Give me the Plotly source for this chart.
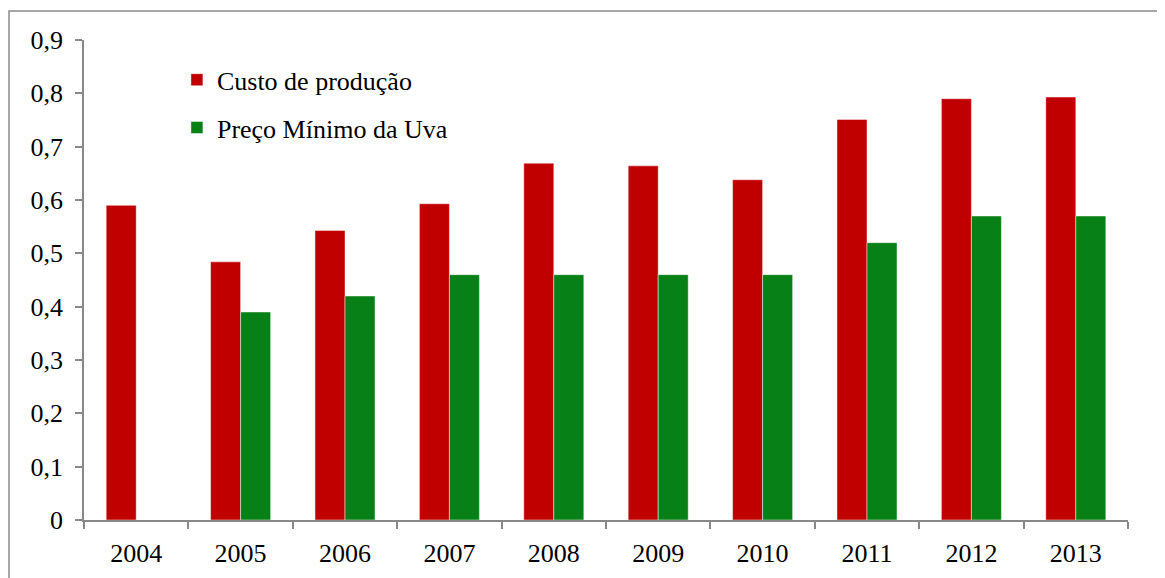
import plotly.graph_objects as go

years = ["2004", "2005", "2006", "2007", "2008", "2009", "2010", "2011", "2012", "2013"]
custo = [0.59, 0.484, 0.543, 0.593, 0.669, 0.664, 0.638, 0.751, 0.790, 0.793]
preco = [None, 0.39, 0.42, 0.46, 0.46, 0.46, 0.46, 0.52, 0.57, 0.57]
ytick_vals = [0, 0.1, 0.2, 0.3, 0.4, 0.5, 0.6, 0.7, 0.8, 0.9]
ytick_text = ["0", "0,1", "0,2", "0,3", "0,4", "0,5", "0,6", "0,7", "0,8", "0,9"]

FONT = "Liberation Serif"
FS = 26
AXC = "#898989"

# page body has an 8px margin; figure coords = page coords - 8
L, T = 76, 32
PW, PH = 1044, 480

fig = go.Figure()
fig.add_trace(go.Bar(x=years, y=custo, name="Custo de produção", legendgroup="a",
                     marker=dict(color="#C00000", line=dict(color="rgba(255,255,255,0.45)", width=1))))
fig.add_trace(go.Bar(x=years, y=preco, name="Preço Mínimo da Uva", legendgroup="b",
                     marker=dict(color="#088018", line=dict(color="rgba(255,255,255,0.45)", width=1))))

fig.update_layout(
    width=1165, height=578,
    margin=dict(l=L, r=1165 - L - PW, t=T, b=578 - T - PH),
    paper_bgcolor="white", plot_bgcolor="white",
    font=dict(family=FONT, size=FS, color="black"),
    barmode="group", bargap=0.425, bargroupgap=0,
    showlegend=True,
    legend=dict(x=0.089, y=0.966, xanchor="left", yanchor="top",
                bgcolor="rgba(0,0,0,0)", font=dict(family=FONT, size=FS),
                itemwidth=30, tracegroupgap=11, traceorder="grouped"),
    shapes=[dict(type="rect", xref="paper", yref="paper",
                 x0=(1 - L) / PW, x1=(1200 - L) / PW,
                 y0=(T + PH - 620) / PH, y1=(T + PH - 3) / PH,
                 line=dict(color="#8a8a8a", width=1.5), fillcolor="rgba(0,0,0,0)", layer="below")],
)
fig.update_xaxes(type="category", showline=True, linecolor=AXC, linewidth=1.5,
                 ticks="outside", ticklen=7, tickcolor=AXC, tickwidth=1.5,
                 tickson="boundaries", showgrid=False, ticklabelstandoff=9,
                 tickfont=dict(family=FONT, size=FS))
fig.update_yaxes(range=[0, 0.9], tickvals=ytick_vals, ticktext=ytick_text,
                 showline=True, linecolor=AXC, linewidth=1.5,
                 ticks="outside", ticklen=7, tickcolor=AXC, tickwidth=1.5,
                 showgrid=False, zeroline=False, ticklabelstandoff=7,
                 tickfont=dict(family=FONT, size=FS))

fig.write_html("out.html")
